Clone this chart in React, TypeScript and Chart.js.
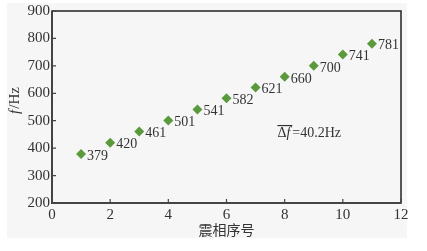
import React, { useEffect, useRef } from "react";
import { Chart, registerables } from "chart.js";

Chart.register(...registerables);

const seqNo = [1, 2, 3, 4, 5, 6, 7, 8, 9, 10, 11];
const freqHz = [379, 420, 461, 501, 541, 582, 621, 660, 700, 741, 781];
const xTicks = [0, 2, 4, 6, 8, 10, 12];
const yTicks = [200, 300, 400, 500, 600, 700, 800, 900];
const xTitle = "震相序号";
const yTitleItalic = "f";
const yTitleRest = "/Hz";
const meanDelta = "Δ";
const meanF = "f";
const meanRest = "=40.2Hz";
const meanAt = { x: 7.75, y: 455 };

const SERIF = "'Liberation Serif', 'DejaVu Serif', serif";
const CJK = "'Noto Sans CJK SC', sans-serif";
const TEXT = "#333";
const GREEN = "#5b9a3c";

const decorPlugin = {
  id: "decor",
  beforeDraw(chart: any) {
    const ctx = chart.ctx;
    ctx.save();
    ctx.fillStyle = "#ffffff";
    ctx.fillRect(0, 0, chart.width, chart.height);
    ctx.fillStyle = "#f6f6f6";
    ctx.fillRect(7, 3, 400, 235);
    ctx.restore();
  },
  afterDraw(chart: any) {
    const ctx = chart.ctx;
    const a = chart.chartArea;
    const xs = chart.scales.x;
    const ys = chart.scales.y;
    ctx.save();
    // frame
    ctx.strokeStyle = "#222";
    ctx.lineWidth = 1.5;
    ctx.strokeRect(a.left, a.top, a.right - a.left, a.bottom - a.top);
    ctx.strokeStyle = "#444";
    ctx.lineWidth = 2;
    ctx.beginPath();
    ctx.moveTo(a.left, a.top);
    ctx.lineTo(a.left, a.bottom);
    ctx.lineTo(a.right, a.bottom);
    ctx.stroke();
    // inward ticks
    ctx.lineWidth = 1.2;
    ctx.beginPath();
    xTicks.forEach((v) => {
      const px = xs.getPixelForValue(v);
      ctx.moveTo(px, a.bottom);
      ctx.lineTo(px, a.bottom - 4);
    });
    yTicks.forEach((v) => {
      const py = ys.getPixelForValue(v);
      ctx.moveTo(a.left, py);
      ctx.lineTo(a.left + 4, py);
    });
    ctx.stroke();
    // data labels
    ctx.fillStyle = TEXT;
    ctx.font = `14px ${SERIF}`;
    ctx.textAlign = "left";
    ctx.textBaseline = "middle";
    seqNo.forEach((s, i) => {
      const px = xs.getPixelForValue(s);
      const py = ys.getPixelForValue(freqHz[i]);
      ctx.fillText(String(freqHz[i]), px + 6, py + 2);
    });
    // mean annotation
    let ax = xs.getPixelForValue(meanAt.x);
    const ay = ys.getPixelForValue(meanAt.y);
    const startX = ax;
    ctx.font = `14px ${SERIF}`;
    ctx.fillText(meanDelta, ax, ay);
    ax += ctx.measureText(meanDelta).width;
    ctx.font = `italic 14px ${SERIF}`;
    ctx.fillText(meanF, ax, ay);
    ax += ctx.measureText(meanF).width + 2;
    ctx.strokeStyle = "#333";
    ctx.lineWidth = 1.2;
    ctx.beginPath();
    ctx.moveTo(startX, ay - 7.5);
    ctx.lineTo(ax, ay - 7.5);
    ctx.stroke();
    ctx.font = `14px ${SERIF}`;
    ctx.fillText(meanRest, ax, ay);
    // x title
    ctx.font = `14px ${CJK}`;
    ctx.textAlign = "center";
    ctx.fillText(xTitle, (a.left + a.right) / 2, a.bottom + 27);
    // y title (rotated)
    ctx.translate(15, (a.top + a.bottom) / 2 - 6);
    ctx.rotate(-Math.PI / 2);
    ctx.font = `italic 15px ${SERIF}`;
    const w1 = ctx.measureText(yTitleItalic).width;
    ctx.font = `15px ${SERIF}`;
    const w2 = ctx.measureText(yTitleRest).width;
    const sx = -(w1 + w2) / 2;
    ctx.textAlign = "left";
    ctx.font = `italic 15px ${SERIF}`;
    ctx.fillText(yTitleItalic, sx, 0);
    ctx.font = `15px ${SERIF}`;
    ctx.fillText(yTitleRest, sx + w1 + 1, 0);
    ctx.restore();
  },
};

export default function App() {
  const ref = useRef<HTMLCanvasElement | null>(null);
  useEffect(() => {
    if (!ref.current) return;
    const chart = new Chart(ref.current, {
      type: "scatter",
      data: {
        datasets: [
          {
            data: seqNo.map((s, i) => ({ x: s, y: freqHz[i] })),
            pointStyle: "rectRot",
            pointRadius: 5,
            backgroundColor: GREEN,
            borderColor: GREEN,
            borderWidth: 0,
          },
        ],
      },
      options: {
        responsive: false,
        animation: false,
        layout: { padding: { left: 7, top: 11, right: 26, bottom: 0 } },
        plugins: { legend: { display: false }, tooltip: { enabled: false } },
        scales: {
          x: {
            type: "linear",
            min: 0,
            max: 12,
            afterBuildTicks: (s: any) => {
              s.ticks = xTicks.map((v) => ({ value: v }));
            },
            afterFit: (s: any) => {
              s.height = 48;
            },
            grid: { display: false, drawTicks: false },
            border: { display: false },
            ticks: {
              padding: 3,
              color: TEXT,
              font: { family: SERIF, size: 15 },
              maxRotation: 0,
            },
          },
          y: {
            type: "linear",
            min: 200,
            max: 900,
            afterBuildTicks: (s: any) => {
              s.ticks = yTicks.map((v) => ({ value: v }));
            },
            afterFit: (s: any) => {
              s.width = 45;
            },
            grid: { display: false, drawTicks: false },
            border: { display: false },
            ticks: {
              padding: 2,
              color: TEXT,
              font: { family: SERIF, size: 15 },
            },
          },
        },
      },
      plugins: [decorPlugin],
    } as any);
    return () => chart.destroy();
  }, []);
  return (
    <div style={{ position: "absolute", left: 0, top: 0, width: 427, height: 251 }}>
      <canvas ref={ref} width={427} height={251} />
    </div>
  );
}
